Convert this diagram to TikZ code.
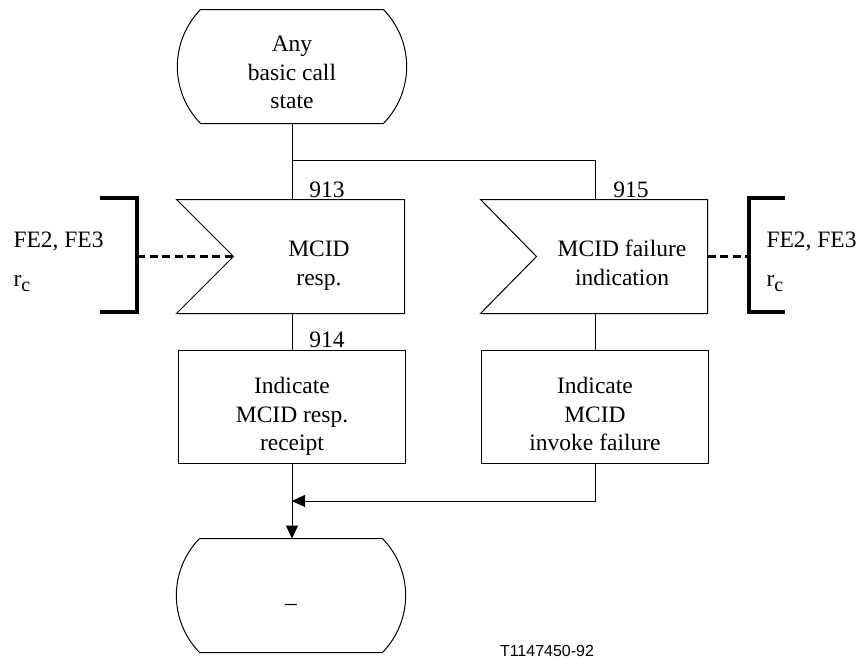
\documentclass[tikz,border=0pt]{standalone}
\usepackage{fontspec}
\setmainfont{Liberation Serif}
\newfontfamily\tagfont{Liberation Sans}
\usetikzlibrary{arrows.meta}

\begin{document}
\begin{tikzpicture}[x=1pt,y=-1pt,line width=1pt,
    every node/.style={font=\fontsize{23.5}{28.5}\selectfont, align=center, inner sep=0pt},
    stbox/.style={minimum width=228pt, minimum height=113pt, text height=84pt, text depth=0pt},
    inbox/.style={minimum width=170pt, minimum height=113pt, text height=57pt, text depth=0pt},
    prbox/.style={draw, minimum width=227pt, minimum height=113pt, text height=88pt, text depth=0pt},
    bracket/.style={line width=4pt},
    sigline/.style={line width=3.5pt, dash pattern=on 8pt off 4.5pt},
    flow/.style={-{Triangle[length=13pt,width=12pt]}}]

        \useasboundingbox (0,0) rectangle (860,659);

        % states
        \node[stbox] (s1) at (292,66.5) {Any\\basic call\\state};
        \node[stbox, text height=30pt] (s2) at (291,595.5) {--};
        \draw ([xshift=23pt]s1.north west) -- ([xshift=-23pt]s1.north east)
          to[bend left=44] ([xshift=-23pt]s1.south east) -- ([xshift=23pt]s1.south west)
          to[bend left=44] ([xshift=23pt]s1.north west);
        \draw ([xshift=23pt]s2.north west) -- ([xshift=-23pt]s2.north east)
          to[bend left=44] ([xshift=-23pt]s2.south east) -- ([xshift=23pt]s2.south west)
          to[bend left=44] ([xshift=23pt]s2.north west);

        % inputs
        \node[inbox] (i913) at (319,256.5) {MCID\\resp.};
        \node[inbox] (i915) at (622,256.5) {MCID failure\\indication};
        \draw ([xshift=-57pt]i913.north west) -- (i913.north east) -- (i913.south east)
          -- ([xshift=-57pt]i913.south west) -- (i913.west) -- cycle;
        \draw ([xshift=-56pt]i915.north west) -- (i915.north east) -- (i915.south east)
          -- ([xshift=-56pt]i915.south west) -- (i915.west) -- cycle;

        % tasks
        \node[prbox] (p914) at (292,406.5) {Indicate\\MCID resp.\\receipt};
        \node[prbox] (p915) at (595,406.5) {Indicate\\MCID\\invoke failure};

        % numbers
        \node[anchor=base] (n913) at (327,197) {913};
        \node[anchor=base] (n915) at (631,197) {915};
        \node[anchor=base] (n914) at (327,347) {914};

        % flow lines
        \coordinate (split) at (292,160);
        \coordinate (merge) at (292,501);
        \draw (s1.south) -- (s1.south |- i913.north);
        \draw (split) -| (i915.north -| p915.north);
        \draw (p914.north |- i913.south) -- (p914.north);
        \draw (p915.north |- i915.south) -- (p915.north);
        \draw[flow] (p914.south) -- (p914.south |- s2.north);
        \draw[flow] (p915.south) |- (merge);

        % signal sources
        \node[anchor=base west] (fe913) at (13,247) {FE2, FE3};
        \node[anchor=base west] (rc913) at (13,286) {r\raisebox{-5pt}{\fontsize{20}{20}\selectfont c}};
        \node[anchor=base west] (fe915) at (766,247) {FE2, FE3};
        \node[anchor=base west] (rc915) at (766,286) {r\raisebox{-5pt}{\fontsize{20}{20}\selectfont c}};
        \coordinate (b913) at (137,256.5);
        \coordinate (b915) at (749,256.5);
        \draw[bracket] (100,198) -| (137,312) -- (100,312);
        \draw[bracket] (785,198) -| (749,312) -- (785,312);
        \draw[sigline] (b913) -- (i913.west);
        \draw[sigline] (i915.east) -- (b915);

        \node[anchor=base, font=\tagfont\fontsize{16}{16}\selectfont] (tag) at (547,656) {T1147450-92};

      \end{tikzpicture}
\end{document}
